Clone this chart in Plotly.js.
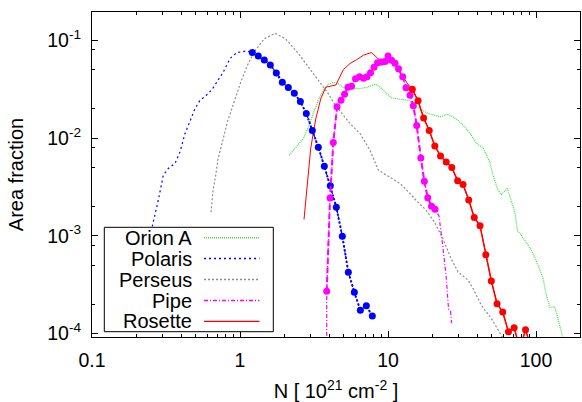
<!DOCTYPE html>
<html>
<head>
<meta charset="utf-8">
<script src="https://cdn.plot.ly/plotly-3.0.1.min.js"></script>
<style>html,body{margin:0;padding:0;background:#fff;}#chart{width:582px;height:402px;}</style>
</head>
<body>
<div id="chart"></div>
<script>
// ---------- data ----------
// Orion A (green dotted)
const orionN = [2.153,2.416,2.677,2.894,3.129,3.381,3.654,3.950,4.269,4.616,4.989,5.537,6.468,7.361,8.170,8.830,9.80,10.59,12.05,13.72,15.63,18.26,20.78,22.46,24.93,27.62,31.48,35.83,39.75,44.05,48.66,51.23,55.37,58.29,64.00,68.09,71.79,74.76,79.56,88.31,95.43,103.2,111.5,117.4,123.8,133.8,140.8,148.3,152.2];
const orionA = [0.00667,0.00811,0.00988,0.01299,0.0178,0.02434,0.03082,0.03549,0.03694,0.03608,0.03284,0.03208,0.03208,0.03331,0.03549,0.03331,0.02851,0.0257,0.02493,0.02434,0.0208,0.01805,0.0171,0.01643,0.01751,0.01643,0.01406,0.01112,0.00879,0.00787,0.00566,0.00417,0.00293,0.00264,0.00304,0.00231,0.00176,0.00114,0.001014,0.000801,0.000659,0.000501,0.000366,0.000247,0.000186,0.000188,0.0001427,0.0001041,0.0000897];

// Polaris (blue dotted) - part without points, then part with points
const polarisLineN = [0.2465,0.2805,0.3032,0.3277,0.3637,0.3932,0.4250,0.4595,0.4966,0.5369,0.6105,0.6601,0.7137,0.7712,0.8557,0.9500,1.110];
const polarisLineA = [0.00099,0.00231,0.00417,0.00488,0.00549,0.00721,0.01112,0.0152,0.0200,0.0243,0.0285,0.0328,0.0390,0.0474,0.0650,0.0748,0.0777];
const polarisPtsN = [1.211,1.329,1.459,1.602,1.759,1.931,2.121,2.328,2.556,2.805,3.080,3.381,3.712,4.075,4.474,4.912,5.393,5.921,6.500,7.136,7.834];
const polarisPtsA = [0.0748,0.0691,0.0629,0.0559,0.0463,0.0372,0.0328,0.0287,0.0236,0.0178,0.01193,0.00805,0.00515,0.00325,0.00196,0.00099,0.000424,0.000265,0.000173,0.000193,0.000151];

// Perseus (grey dotted)
const perseusN = [0.6368,0.6570,0.6851,0.7101,0.7593,0.8206,0.9110,1.011,1.120,1.243,1.453,1.724,2.036,2.439,2.849,3.329,3.890,4.433,5.537,6.468,7.555,8.602,10.31,12.05,14.08,15.46,18.06,20.55,23.43,26.66,29.72,34.72,37.52,42.69,49.89,56.85,59.84];
const perseusA = [0.001742,0.002926,0.004136,0.006113,0.00906,0.01451,0.02323,0.0372,0.05512,0.07539,0.1031,0.1179,0.1031,0.0754,0.0551,0.0402,0.0294,0.0215,0.01406,0.01112,0.0075,0.00469,0.004,0.00343,0.00271,0.00231,0.00183,0.001387,0.000939,0.000586,0.000427,0.000352,0.000289,0.000195,0.0001427,0.0001041,0.0000897];

// Pipe (magenta) - low tail, points, high tail
const pipeLowN = [3.853];
const pipeLowA = [0.00005];
const pipePtsN = [3.853,4.056,4.269,4.523,4.813,5.083,5.366,5.668,6.031,6.418,6.832,7.213,7.617,8.042,8.494,9.040,9.544,10.0,10.56,11.15,11.77,12.57,13.23,14.08,14.82,15.63,16.66,17.59,18.55,19.67,20.78];
const pipePtsA = [0.000271,0.00244,0.00899,0.02089,0.02434,0.02804,0.03307,0.03386,0.0404,0.04233,0.04088,0.04233,0.04652,0.05296,0.05886,0.05998,0.06055,0.06911,0.06244,0.05818,0.05111,0.04233,0.03267,0.02739,0.0214,0.01342,0.00624,0.00362,0.00245,0.00201,0.00187];
const pipeHighN = [22.11,23.17,24.01,24.66,25.32,25.64,26.45,26.86];
const pipeHighA = [0.001586,0.000902,0.000604,0.000396,0.00023,0.0001777,0.0001694,0.0001278];

// Rosette (red) - part without points, then part with points
const rosetteLineN = [2.706,2.894,3.005,3.248,3.510,3.794,4.101,4.452,4.989,5.537,6.128,6.810,7.737,8.494,9.397,10.48,11.33,12.57,13.59];
const rosetteLineA = [0.001468,0.00417,0.00787,0.01567,0.02511,0.03307,0.03386,0.03491,0.05017,0.05779,0.06319,0.07024,0.07502,0.06546,0.06029,0.05958,0.05358,0.04183,0.03573];
const rosettePtsN = [14.59,15.95,17.40,18.98,20.71,22.63,24.73,26.98,29.53,32.13,35.11,38.23,41.83,45.79,49.89,54.52,59.57,65.11,71.12,77.71,84.93,92.81];
const rosettePtsA = [0.03155,0.02406,0.01601,0.01196,0.0083,0.00655,0.00568,0.00499,0.00366,0.00335,0.00232,0.001542,0.001268,0.000639,0.000345,0.000202,0.0001663,0.0001041,0.0001149,0.00007,0.0001096,0.00007];

const seriesNames = ['Orion A','Polaris','Perseus','Pipe','Rosette'];
const xTickVals = [0.1, 1, 10, 100];
const xTickText = ['0.1', '1', '10', '100'];
const yTickVals = [1e-4, 1e-3, 1e-2, 1e-1];
const yTickText = ['10<sup>-4</sup>', '10<sup>-3</sup>', '10<sup>-2</sup>', '10<sup>-1</sup>'];

// ---------- styles ----------
const C = {orion:'rgb(60,225,60)', polaris:'rgb(0,0,255)', perseus:'rgb(140,140,140)', pipe:'rgb(255,0,255)', rosette:'rgb(255,0,0)'};
const D = {orion:'1px,1px', polaris:'2px,3px', perseus:'2px,2px', pipe:'4px,2px,1px,2px', rosette:'solid'};

const traces = [
  {x: orionN, y: orionA, mode:'lines', line:{color:C.orion, width:1.2, dash:D.orion}, showlegend:false},
  {x: polarisLineN.concat(polarisPtsN), y: polarisLineA.concat(polarisPtsA), mode:'lines', line:{color:C.polaris, width:1.2, dash:D.polaris}, showlegend:false},
  {x: perseusN, y: perseusA, mode:'lines', line:{color:C.perseus, width:1.2, dash:D.perseus}, showlegend:false},
  {x: pipeLowN.concat(pipePtsN, pipeHighN), y: pipeLowA.concat(pipePtsA, pipeHighA), mode:'lines', line:{color:C.pipe, width:1.2, dash:D.pipe}, showlegend:false},
  {x: rosetteLineN.concat(rosettePtsN), y: rosetteLineA.concat(rosettePtsA), mode:'lines', line:{color:C.rosette, width:1}, showlegend:false},
  {x: polarisPtsN, y: polarisPtsA, mode:'lines+markers', line:{color:C.polaris, width:2, dash:'2px,2px'}, marker:{color:C.polaris, size:7}, showlegend:false},
  {x: pipePtsN, y: pipePtsA, mode:'lines+markers', line:{color:C.pipe, width:2, dash:'6px,3px'}, marker:{color:C.pipe, size:7}, showlegend:false},
  {x: rosettePtsN, y: rosettePtsA, mode:'lines+markers', line:{color:C.rosette, width:1.5}, marker:{color:C.rosette, size:7}, showlegend:false}
];

// ---------- layout ----------
const W = 582, H = 402, L = 92, R = 2, T = 12, B = 65;
const pw = W - L - R, ph = H - T - B;
const px2x = p => (p - L) / pw;
const px2y = p => (H - B - p) / ph;

const xMinor = [];
for (let e = -1; e <= 2; e++) for (let m = 2; m <= 9; m++) xMinor.push(m * Math.pow(10, e));
const yMinor = [];
for (let e = -5; e <= -1; e++) [2, 5, 8].forEach(m => yMinor.push(m * Math.pow(10, e)));

const font = {family:'Liberation Sans, Arial, Helvetica, sans-serif', size:20, color:'#000'};
const tickFont = {family:'Liberation Sans, Arial, Helvetica, sans-serif', size:19.5, color:'#000'};

const shapes = [];
const annotations = [];
// legend box
shapes.push({type:'rect', xref:'paper', yref:'paper', x0:px2x(104.3), x1:px2x(273.3), y0:px2y(331.7), y1:px2y(227.3), line:{color:'#000', width:1}, fillcolor:'#fff', layer:'above'});
const rowY = [237.7, 258.6, 279.6, 300.5, 321.4];
const legStyles = [
  {color:C.orion, dash:D.orion, width:1.5},
  {color:C.polaris, dash:D.polaris, width:1.5},
  {color:C.perseus, dash:D.perseus, width:1.5},
  {color:C.pipe, dash:D.pipe, width:1.5},
  {color:C.rosette, dash:'solid', width:1.2}
];
seriesNames.forEach((nm, i) => {
  annotations.push({xref:'paper', yref:'paper', x:px2x(192.5), y:px2y(rowY[i]), xanchor:'right', yanchor:'middle', text:nm, showarrow:false, font:font, borderpad:0});
  shapes.push({type:'line', xref:'paper', yref:'paper', x0:px2x(204), x1:px2x(259.5), y0:px2y(rowY[i]), y1:px2y(rowY[i]), line:legStyles[i], layer:'above'});
});

const layout = {
  width: W, height: H,
  margin: {l:L, r:R, t:T, b:B, pad:0},
  paper_bgcolor:'#fff', plot_bgcolor:'#fff',
  font: font,
  showlegend: false,
  xaxis: {
    type:'log', range:[-1, 2.297], autorange:false,
    tickmode:'array', tickvals:xTickVals, ticktext:xTickText,
    ticks:'inside', ticklen:6, tickwidth:1, tickcolor:'#000',
    minor:{tickmode:'array', tickvals:xMinor, ticks:'inside', ticklen:3, tickwidth:1, tickcolor:'#000', showgrid:false},
    showline:true, linecolor:'#000', linewidth:1, mirror:'allticks',
    showgrid:false, zeroline:false,
    tickfont:tickFont, ticklabelstandoff:6,
    title:{text:'N [ 10<sup>21</sup> cm<sup>-2</sup> ]', font:font, standoff:16}
  },
  yaxis: {
    type:'log', range:[-4.035, -0.711], autorange:false,
    tickmode:'array', tickvals:yTickVals, ticktext:yTickText,
    ticks:'inside', ticklen:6, tickwidth:1, tickcolor:'#000',
    minor:{tickmode:'array', tickvals:yMinor, ticks:'inside', ticklen:3, tickwidth:1, tickcolor:'#000', showgrid:false},
    showline:true, linecolor:'#000', linewidth:1, mirror:'allticks',
    showgrid:false, zeroline:false,
    tickfont:tickFont, ticklabelstandoff:6,
    title:{text:'Area fraction', font:font, standoff:18}
  },
  shapes: shapes,
  annotations: annotations
};

Plotly.newPlot('chart', traces, layout, {staticPlot:true, displayModeBar:false});
</script>
</body>
</html>
